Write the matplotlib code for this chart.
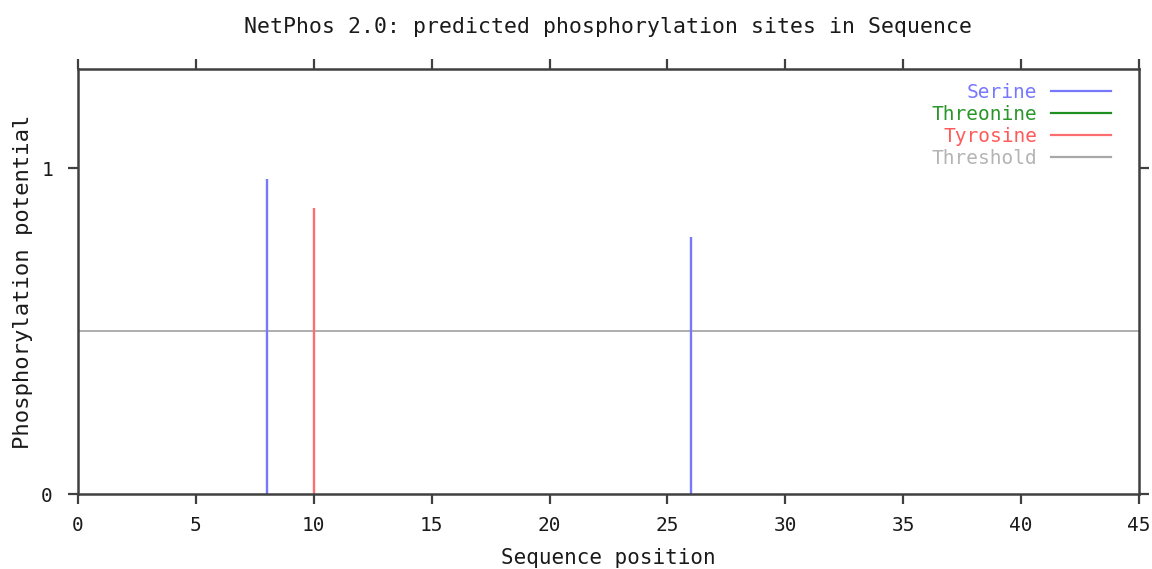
import matplotlib
matplotlib.use("Agg")
import matplotlib.pyplot as plt
from matplotlib.lines import Line2D

# Predicted phosphorylation sites (position, score) per residue type
serine_pos = [8, 26]
serine_score = [0.965, 0.788]
threonine_pos = []
threonine_score = []
tyrosine_pos = [10]
tyrosine_score = [0.877]
threshold = 0.5

x_ticks = [0, 5, 10, 15, 20, 25, 30, 35, 40, 45]
y_ticks = [0, 1]

plt.rcParams['font.family'] = ['DejaVu Sans Mono']
FS = 14
TXT = '#1a1a1a'

c_ser = '#7878ff'
c_thr = '#1f8f1f'
c_tyr = '#ff6e6e'
c_thresh = '#a8a8a8'
c_axis = '#404040'

fig = plt.figure(figsize=(11.52, 5.69), dpi=100)
ax = fig.add_axes([78 / 1152, 1 - 494 / 569, (1139 - 78) / 1152, (494 - 69) / 569])

ax.axhline(threshold, color=c_thresh, lw=1.3, zorder=1)
ax.vlines(serine_pos, 0, serine_score, color=c_ser, lw=1.7, zorder=2)
if threonine_pos:
    ax.vlines(threonine_pos, 0, threonine_score, color=c_thr, lw=1.7, zorder=2)
ax.vlines(tyrosine_pos, 0, tyrosine_score, color=c_tyr, lw=1.7, zorder=2)

ax.set_xlim(0, 45)
ax.set_ylim(0, 1.304)
ax.set_xticks(x_ticks)
ax.set_xticklabels([str(t) for t in x_ticks], fontsize=FS, color=TXT)
ax.set_yticks(y_ticks)
ax.set_yticklabels([str(t) for t in y_ticks], fontsize=FS, color=TXT)
ax.tick_params(direction='out', length=7, width=1.6, color=c_axis,
               top=True, right=True)
ax.tick_params(axis='x', pad=9)
ax.tick_params(axis='y', pad=11)
for s in ax.spines.values():
    s.set_color(c_axis)
    s.set_linewidth(1.8)

ax.set_title('NetPhos 2.0: predicted phosphorylation sites in Sequence',
             fontsize=15.5, color=TXT, pad=26)
ax.set_xlabel('Sequence position', fontsize=15, color=TXT, labelpad=9)
ax.set_ylabel('Phosphorylation potential', fontsize=16, color=TXT, labelpad=6)

handles = [Line2D([], [], color=c, lw=1.6) for c in (c_ser, c_thr, c_tyr, c_thresh)]
labels = ['Serine', 'Threonine', 'Tyrosine', 'Threshold']
leg = ax.legend(handles, labels, loc='upper right', bbox_to_anchor=(0.99, 1.008),
                markerfirst=False, frameon=False, fontsize=FS, handlelength=3.1,
                handletextpad=0.7, labelspacing=0.15, alignment='right',
                labelcolor=['#7878ff', '#2a962a', '#ff5a5a', '#b4b4b4'])
for t in leg.get_texts():
    t.set_ha('right')

fig.savefig('out.png', dpi=100, facecolor='white')
